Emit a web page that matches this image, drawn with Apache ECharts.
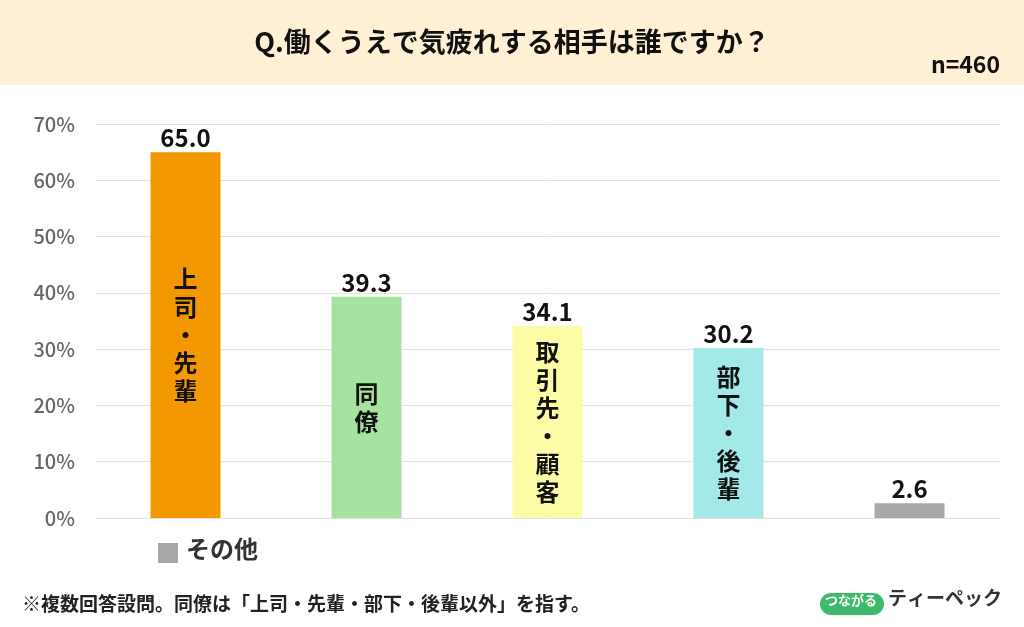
<!DOCTYPE html>
<html><head><meta charset="utf-8">
<script src="https://cdn.jsdelivr.net/npm/echarts@6/dist/echarts.min.js"></script>
<style>body{margin:0}#c{width:1024px;height:627px}</style></head>
<body><div id="c"></div>
<script>
// カテゴリと値
var categories = ['上司・先輩', '同僚', '取引先・顧客', '部下・後輩', 'その他'];
var values = [65.0, 39.3, 34.1, 30.2, 2.6];
var barColors = ['#f39800', '#a6e3a1', '#fdfca6', '#a3e9e7', '#a8a8a8'];
var innerLabels = ['上\n司\n・\n先\n輩', '同\n僚', '取\n引\n先\n・\n顧\n客', '部\n下\n・\n後\n輩', ''];

var font = '"Noto Sans CJK JP", sans-serif';
var myChart = echarts.init(document.getElementById('c'));
var option = {
    animation: false,
    graphic: [
        {type: 'rect', left: 0, top: 0, shape: {width: 1024, height: 85}, style: {fill: '#fdf0d5'}},
        {type: 'text', left: 'center', top: 28, style: {text: 'Q.働くうえで気疲れする相手は誰ですか？', font: 'bold 27px ' + font, fill: '#111'}},
        {type: 'text', right: 24, top: 53, style: {text: 'n=460', font: 'bold 23px ' + font, fill: '#111'}},
        {type: 'rect', left: 158, top: 543, shape: {width: 20, height: 20}, style: {fill: '#a8a8a8'}},
        {type: 'text', left: 186, top: 537, style: {text: 'その他', font: 'bold 24px ' + font, fill: '#333'}},
        {type: 'text', left: 22, top: 594, style: {text: '※複数回答設問。同僚は「上司・先輩・部下・後輩以外」を指す。', font: 'bold 19px ' + font, fill: '#222'}},
        {type: 'rect', left: 820, top: 593, shape: {width: 64, height: 22, r: 11}, style: {fill: '#3dba6a'}},
        {type: 'text', left: 825, top: 594, style: {text: 'つながる', font: 'bold 13px ' + font, fill: '#fff'}},
        {type: 'text', left: 888, top: 588, style: {text: 'ティーペック', font: 'bold 19px ' + font, fill: '#333'}}
    ],
    grid: {left: 95, right: 24, top: 124, bottom: 109},
    xAxis: {
        type: 'category',
        data: categories,
        axisLine: {show: false},
        axisTick: {show: false},
        axisLabel: {show: false}
    },
    yAxis: {
        type: 'value',
        min: 0, max: 70, interval: 10,
        axisLabel: {formatter: '{value}%', color: '#666', fontSize: 20, fontWeight: 500, fontFamily: font, margin: 20, padding: [0, 0, 14, 0]},
        splitLine: {lineStyle: {color: '#e2e2e2'}}
    },
    series: [{
        type: 'bar',
        barWidth: 70,
        data: values.map(function (v, i) {
            return {
                value: v,
                itemStyle: {color: barColors[i]},
                label: {
                    show: true, position: 'top', distance: 2,
                    formatter: function (p) { return p.value.toFixed(1); },
                    fontSize: 24, fontWeight: 'bold', color: '#111', fontFamily: font
                }
            };
        }),
        z: 2
    }, {
        type: 'bar',
        barWidth: 70,
        barGap: '-100%',
        data: values.map(function (v, i) {
            return {
                value: v,
                itemStyle: {color: 'transparent'},
                label: {
                    show: true, position: 'inside', formatter: innerLabels[i],
                    fontSize: 24, fontWeight: 'bold', color: '#111', lineHeight: 28, fontFamily: font
                }
            };
        }),
        z: 3
    }]
};
myChart.setOption(option);
</script></body></html>
